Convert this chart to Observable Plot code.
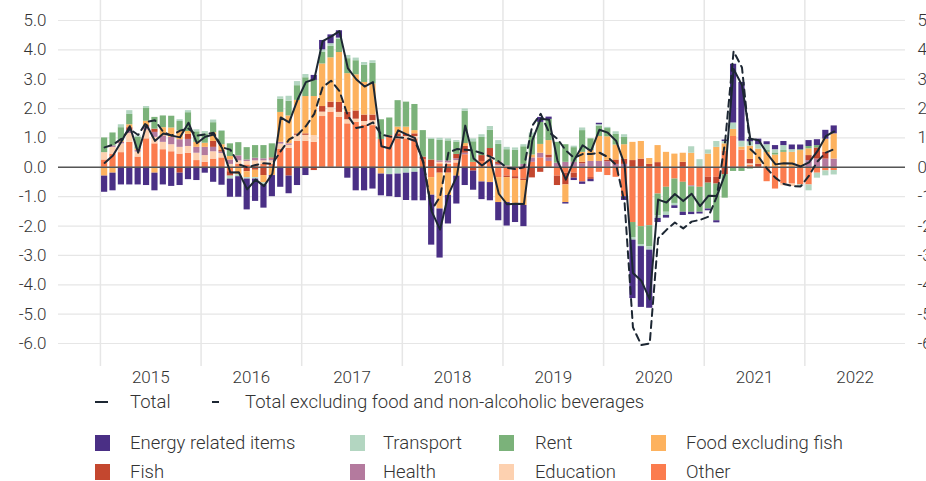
<!DOCTYPE html>
<html><head><meta charset="utf-8">
<script src="https://cdn.jsdelivr.net/npm/d3@7"></script>
<script src="https://cdn.jsdelivr.net/npm/@observablehq/plot@0.6"></script>
<style>
html,body{margin:0;padding:0;background:#fff;overflow:hidden;width:926px;height:481px;}
body{font-family:Roboto,"Noto Sans",sans-serif;font-weight:300;color:#333;position:relative;}
#chart{position:absolute;left:0;top:0;}
.lt{position:absolute;font-size:18.5px;line-height:20px;white-space:nowrap;color:#333;}
.sw{position:absolute;width:15px;height:16px;}
</style></head><body>
<div id="chart"></div>
<div id="legend"></div>
<script>
// stacking order (bottom to top)
const categories = ["Other","Education","Health","Fish","Food excluding fish","Rent","Transport","Energy related items"];
const colors = ["#fb7c4e","#fdd1b0","#b47a9e","#c4472f","#fdb25e","#7bb27a","#b3d6c1","#4a2f85"];
const legendOrder = ["Energy related items","Transport","Rent","Food excluding fish","Fish","Health","Education","Other"];
const yearLabels = ["2015","2016","2017","2018","2019","2020","2021","2022"];
const yTicks = [-6,-5,-4,-3,-2,-1,0,1,2,3,4,5];
const yearStarts = [0,12,24,36,48,60,72,84];
const yearMid = [6,18,30,42,54,66,78,90];

// monthly contributions, Jan 2015 .. Apr 2022
const other = [0.25,0.45,0.5,0.85,0.35,0.97,0.8,0.6,0.53,0.45,
0.48,0.23,0.17,0.28,0.32,-0.15,0.11,0.08,0.08,0.1,
0.1,0.62,0.65,0.89,0.89,0.85,1.73,1.88,1.7,1.48,
1.53,1.44,1.42,0.95,1.08,0.97,0.97,0.97,0.25,-0.35,
0.12,0.1,0.15,0.43,0.17,0.2,0.25,-0.35,-0.3,-0.32,
-0.4,0.17,0.32,0.2,-0.3,-0.2,-0.2,-0.5,-0.35,-0.17,
-0.28,-0.34,-1.0,-1.88,-2.02,-1.99,-0.91,-0.68,-0.4,-0.51,
-0.63,-0.68,-0.34,-0.34,0.55,1.05,0.59,0.06,0,-0.49,
-0.74,-0.57,-0.57,-0.6,-0.6,-0.2,-0.12,-0.11];
const education = [0.25,0.23,0.3,0.3,0.17,0.3,0.22,0.25,0.24,0.23,
0.23,0.25,0.23,0.25,0.15,0.1,0.11,0.12,0.14,0.12,
0.12,0.17,0.1,0.2,0.2,0.23,0.15,0.15,0.17,0.14,
0.11,0.12,0.17,0,0,0.08,0.08,0.08,0,0,
0.05,0.05,0.08,0,0,0,0.1,0.05,0.03,0,
0,0,0,0,0,0,0,0,0,0,
0,0,0,0,0,0,0,0,0,0,
0,0,0,0,0,0,0,0.06,0,0,
0,-0.06,-0.08,0,0,0,0,0];
const health = [0,0.05,0.05,0.1,0.05,0.1,0.17,0.22,0.25,0.26,
0.24,0.2,0.28,0.15,0.05,0.15,0.17,0.05,0.09,0.07,
0.06,0.06,0.05,0,0,0,0,0,0,0,
0,0,0,0,0,0,0,0,0,0,
0.05,0.07,0.06,0.05,0,0,0,0.05,0.02,0,
0.1,0.15,0.16,0.12,0.14,0.17,0.17,0.12,0.2,0.2,
0.19,0.1,0.1,0,0,0,0,0,0,0,
-0.03,0,0,0,0,0,0,0,0,0,
0,0,0,0,0.23,0.28,0.28,0.28];
const fish = [0,0,0,0.1,0,0.05,0.11,0,0,-0.2,
0.17,0,0,0.2,0.05,-0.15,0,-0.15,-0.1,-0.28,
0.04,0,-0.3,0.05,0.05,-0.11,0.19,0.19,0.34,0.26,
0.28,0.22,0.19,0,0,0.09,0.09,0.09,0.1,0.25,
-0.2,-0.2,0.15,0.23,-0.13,0.2,0.29,0.08,-0.05,-0.08,
-0.05,-0.36,-0.17,0.1,-0.32,-0.4,-0.17,0.05,-0.06,0,
0.05,0.15,0.17,0.23,0.28,0.1,0.16,0,0,0.17,
0,0,-0.2,-0.23,-0.25,0,0,0.15,0.11,0,
0,0,0,0,0.17,0.38,0.23,0];
const food = [-0.3,-0.2,0.05,0.1,0.05,0.15,-0.2,0.28,0.32,0.3,
0.1,0.17,0.14,0.3,0.2,0.12,-0.25,-0.2,-0.25,-0.25,
-0.28,1.02,0.95,1.14,1.27,1.33,1.45,1.51,1.7,1.31,
1.23,1.11,1.06,-0.23,0,0.23,0.23,0.11,0,-0.6,
-1.22,-0.76,-0.3,0.1,0,-0.5,-0.52,-0.85,-0.85,-0.83,
-0.85,0.1,0.3,0.49,0,-0.6,0,0.34,0.37,0.85,
0.8,0.51,0.5,0.62,0.6,0.2,0.58,0.51,0.45,0.31,
0.48,0,0.45,0.68,0.25,0.24,0.1,0.45,0.51,0.51,
0.42,0.51,0.51,0.57,0.23,0,0.45,0.86];
const rent = [0.5,0.44,0.45,0.35,0.4,0.45,0.4,0.4,0.4,0.32,
0.64,0.36,0.32,0.34,0.45,0.43,0.45,0.42,0.43,0.45,
0.48,0.45,0.5,0.5,0.64,0.55,0.4,0.39,0.45,0.51,
0.48,0.59,0.7,0.67,0.6,0.9,0.85,0.89,0.9,0.7,
0.7,0.68,0.42,1.1,0.7,0.62,0.62,0.6,0.55,0.58,
0.6,0.65,0.75,0.72,0.71,0.6,0.5,0.74,0.4,0.35,
0.28,0.36,0.25,-0.51,-0.61,-0.72,-0.74,-0.85,-0.83,-1.02,
-0.87,-0.85,-0.88,-1.25,-0.8,-0.14,-0.14,-0.06,0,0.06,
0.07,0.06,0,0.03,0.08,0.08,0,0];
const transport = [0,0,0.1,0.13,0.05,0.05,0,0,0,0.06,
0.07,0.07,0.08,0.09,0.03,-0.1,-0.07,-0.05,-0.05,-0.07,
0,0.08,0.17,0.14,0.11,0,0.08,0.09,0.04,0.11,
0.09,0.09,0.09,0,-0.25,-0.23,-0.2,-0.17,0,0.04,
0.07,0.07,0.05,0.08,0.1,0.09,0.13,0.13,0.08,0.08,
0.07,0.1,0,0,0,0,0.05,0.09,0,0.05,
0.04,0.09,0.09,-0.09,-0.07,-0.11,-0.09,-0.11,-0.08,0,
0.22,0.26,0.14,0.2,0.08,0.22,0.2,0.15,0.15,0.2,
0.11,0.17,0.09,-0.06,-0.2,-0.17,-0.17,-0.15];
const energy = [-0.55,-0.6,-0.6,-0.6,-0.6,-0.62,-0.6,-0.6,-0.65,-0.42,
-0.42,-0.45,-0.2,-0.51,-0.61,-0.62,-0.7,-1.05,-0.76,-0.79,
-0.72,-0.68,-0.6,-0.62,-0.28,0.17,0.32,0.3,0.25,-0.37,
-0.8,-0.8,-0.74,-0.74,-0.75,-0.8,-0.93,-0.97,-1.14,-1.7,
-1.67,-0.97,-0.95,-0.62,-0.65,-0.6,-0.62,-0.62,-0.8,-0.65,
-0.72,0,0.17,0.08,0,-0.05,-0.08,-0.08,-0.08,0.05,
0,0,-0.13,-1.99,-2.07,-1.98,-0.14,-0.09,-0.09,-0.11,
-0.08,-0.06,-0.06,-0.07,0.05,2.0,2.0,0.08,0.19,0.1,
0.14,0.14,0.16,0.16,0.2,0.2,0.3,0.27];
const total = [0.15,0.4,0.88,1.4,0.5,1.45,0.9,1.15,1.08,1.02,
1.52,0.82,1.04,1.12,0.66,-0.18,-0.17,-0.75,-0.42,-0.64,
-0.22,1.7,1.53,2.3,2.9,3.0,4.3,4.45,4.64,3.38,
3.0,2.75,2.9,0.72,0.64,1.26,1.12,1.0,0.15,-1.5,
-2.12,-0.92,-0.3,1.42,0.3,0.06,0.28,-0.9,-1.26,-1.24,
-1.25,0.92,1.65,1.62,0.23,-0.42,0.25,0.75,0.55,1.28,
1.18,0.9,0.1,-3.6,-3.86,-4.5,-1.1,-1.2,-0.91,-1.15,
-0.9,-1.32,-0.97,-0.98,-0.22,3.35,2.8,0.97,0.92,0.47,
0.1,0.14,0.13,0.03,0.17,0.55,1.06,1.22];
const totalExFood = [0.68,0.77,0.97,1.3,1.1,1.55,1.6,1.2,1.08,1.25,
1.32,1.08,1.12,1.18,0.68,0.6,0.1,0.0,0.08,0.14,
0.12,0.55,0.95,1.1,1.4,1.82,2.73,2.95,2.6,1.76,
1.34,1.39,1.53,1.11,1.05,1.02,1.0,0.9,0.2,-1.45,
-1.0,0.5,0.62,0.6,0.57,0.48,0.36,0.2,-0.02,-0.06,
0.0,1.42,1.82,1.19,0.97,0.57,0.32,0.45,0.45,0.5,
0.35,0.08,-1.2,-5.45,-6.05,-6.0,-2.42,-2.13,-1.88,-2.08,
-1.85,-1.79,-1.68,-1.0,0.9,3.95,3.4,0.62,0.35,-0.05,
-0.36,-0.57,-0.64,-0.65,-0.28,0.2,0.5,0.62];

const series = [other, education, health, fish, food, rent, transport, energy];
const barData = [];
categories.forEach((cat, k) => {
  series[k].forEach((v, m) => { if (v !== 0) barData.push({m, m2: m + 1, cat, value: v}); });
});
const totalData = total.map((v, m) => ({m: m + 0.5, v}));
const exData = totalExFood.map((v, m) => ({m: m + 0.5, v}));

const fmt = d => d.toFixed(1);
const chart = Plot.plot({
  width: 960, height: 390,
  marginLeft: 58, marginRight: 55, marginTop: 0, marginBottom: 24,
  style: {fontFamily: "Roboto, sans-serif", fontSize: "17px", fontWeight: 300, color: "#333", background: "transparent", maxWidth: "none"},
  x: {type: "linear", domain: [-5, 96], axis: null},
  y: {domain: [-6.783, 5.681], axis: null},
  color: {domain: categories, range: colors},
  marks: [
    Plot.gridY(yTicks, {stroke: "#e6e6e6", strokeOpacity: 1, strokeWidth: 1.2}),
    Plot.gridX(yearStarts, {stroke: "#e6e6e6", strokeOpacity: 1, strokeWidth: 1.5}),
    Plot.axisY(yTicks, {anchor: "left", tickSize: 0, tickPadding: 12, tickFormat: fmt, fill: "#333"}),
    Plot.axisY(yTicks, {anchor: "right", tickSize: 0, tickPadding: 12, tickFormat: fmt, fill: "#333"}),
    Plot.axisX(yearMid, {anchor: "bottom", tickSize: 0, tickPadding: 4, tickFormat: d => yearLabels[yearMid.indexOf(d)], fill: "#333"}),
    Plot.rectY(barData, {x1: "m", x2: "m2", y: "value", fill: "cat", insetLeft: 1.1, insetRight: 1.1}),
    Plot.ruleY([0], {stroke: "#555", strokeWidth: 1.5}),
    Plot.line(exData, {x: "m", y: "v", stroke: "#1d2733", strokeWidth: 2, strokeDasharray: "7,5"}),
    Plot.line(totalData, {x: "m", y: "v", stroke: "#1d2733", strokeWidth: 2})
  ]
});
document.getElementById("chart").appendChild(chart);

// legend
const leg = document.getElementById("legend");
function addText(txt, x, yc) {
  const d = document.createElement("div");
  d.className = "lt"; d.textContent = txt;
  d.style.left = x + "px"; d.style.top = (yc - 10) + "px";
  leg.appendChild(d);
}
function addLine(x1, x2, yc) {
  const d = document.createElement("div");
  d.style.position = "absolute"; d.style.left = x1 + "px"; d.style.top = (yc - 1) + "px";
  d.style.width = (x2 - x1) + "px"; d.style.height = "2px"; d.style.background = "#1d2733";
  leg.appendChild(d);
}
addLine(95, 108, 402); addText("Total", 130, 402);
addLine(212, 219, 402); addText("Total excluding food and non-alcoholic beverages", 245, 402);
const swX = [95, 350, 499, 651], txX = [130, 383, 535, 686], rowY = [443, 472];
legendOrder.forEach((cat, i) => {
  const r = Math.floor(i / 4), c = i % 4;
  const s = document.createElement("div");
  s.className = "sw"; s.style.left = swX[c] + "px"; s.style.top = (rowY[r] - 8) + "px";
  s.style.background = colors[categories.indexOf(cat)];
  leg.appendChild(s);
  addText(cat, txX[c], rowY[r]);
});
</script>
</body></html>
